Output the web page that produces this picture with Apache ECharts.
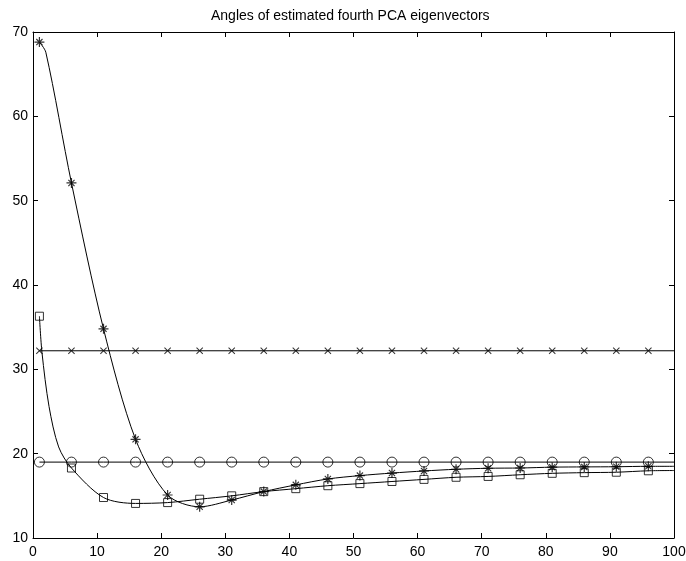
<!DOCTYPE html>
<html>
<head>
<meta charset="utf-8">
<script src="https://cdn.jsdelivr.net/npm/echarts@6/dist/echarts.min.js"></script>
<style>
  html, body { margin: 0; padding: 0; background: #fff; }
  #chart { width: 686px; height: 561px; }
</style>
</head>
<body>
<div id="chart"></div>
<script>
// sample points that carry markers
const markerX = [1, 6, 11, 16, 21, 26, 31, 36, 41, 46, 51, 56, 61, 66, 71, 76, 81, 86, 91, 96];
const starY = [68.8, 52.1, 34.8, 21.7, 15.1, 13.7, 14.5, 15.5, 16.3, 17.0, 17.4, 17.7, 17.95, 18.15, 18.27, 18.3, 18.4, 18.43, 18.45, 18.5];
const squareY = [36.3, 18.3, 14.8, 14.1, 14.2, 14.6, 15.0, 15.5, 15.85, 16.2, 16.45, 16.7, 16.95, 17.2, 17.3, 17.5, 17.67, 17.75, 17.8, 17.97];
const crossY = [32.2, 32.2, 32.2, 32.2, 32.2, 32.2, 32.2, 32.2, 32.2, 32.2, 32.2, 32.2, 32.2, 32.2, 32.2, 32.2, 32.2, 32.2, 32.2, 32.2];
const circleY = [19.0, 19.0, 19.0, 19.0, 19.0, 19.0, 19.0, 19.0, 19.0, 19.0, 19.0, 19.0, 19.0, 19.0, 19.0, 19.0, 19.0, 19.0, 19.0, 19.0];

// extra points (no marker there)
const starCurveX = [2, 100];
const starCurveY = [67.6, 18.5];
const squareCurveX = [1.4, 2.5, 4, 100];
const squareCurveY = [32.0, 25.6, 20.8, 18.0];
const flatEndX = [100];
const crossEndY = [32.2];
const circleEndY = [19.0];

const xTicks = [0, 10, 20, 30, 40, 50, 60, 70, 80, 90, 100];
const yTicks = [10, 20, 30, 40, 50, 60, 70];

const FONT = "'Liberation Sans', Arial, sans-serif";

const starPath = 'path://M4.4,0 H5.6 V10 H4.4 Z M0,4.4 H10 V5.6 H0 Z ' +
  'M1.5,2.3 L2.3,1.5 L8.5,7.7 L7.7,8.5 Z M7.7,1.5 L8.5,2.3 L2.3,8.5 L1.5,7.7 Z';
const crossPath = 'path://M0,1 L1,0 L10,9 L9,10 Z M9,0 L10,1 L1,10 L0,9 Z';

function pairs(xs, ys) {
  return xs.map((x, i) => [x, ys[i]]);
}
function curve(xs, ys, ex, ey) {
  return pairs(xs, ys).concat(pairs(ex, ey)).sort((a, b) => a[0] - b[0]);
}

function lineSeries(data, smooth) {
  return {
    type: 'line',
    data: data,
    showSymbol: false,
    symbol: 'none',
    smooth: smooth ? 0.3 : false,
    lineStyle: { color: '#000', width: 1 },
    z: 2,
  };
}
function markSeries(ys, symbol, size, hollow) {
  return {
    type: 'scatter',
    data: pairs(markerX, ys),
    symbol: symbol,
    symbolSize: size,
    itemStyle: hollow
      ? { color: 'rgba(0,0,0,0)', borderColor: '#000', borderWidth: 1 }
      : { color: '#000' },
    z: 3,
  };
}

const axisCommon = {
  type: 'value',
  axisLine: { show: true, onZero: false, lineStyle: { color: '#000', width: 1 } },
  axisTick: { show: true, inside: true, length: 5, lineStyle: { color: '#000' } },
  splitLine: { show: false },
};

const chart = echarts.init(document.getElementById('chart'));
chart.setOption({
  animation: false,
  backgroundColor: '#fff',
  title: {
    text: 'Angles of estimated fourth PCA eigenvectors',
    left: 211,
    top: 9,
    padding: 0,
    textStyle: { fontFamily: FONT, fontSize: 14, fontWeight: 'normal', color: '#000' },
  },
  grid: { left: 33, right: 12, top: 32, bottom: 23, outerBoundsMode: 'none', containLabel: false },
  xAxis: [
    Object.assign({}, axisCommon, {
      min: xTicks[0], max: xTicks[xTicks.length - 1], interval: 10,
      position: 'bottom',
      axisLabel: { color: '#000', fontFamily: FONT, fontSize: 14, margin: 7 },
    }),
    Object.assign({}, axisCommon, {
      min: xTicks[0], max: xTicks[xTicks.length - 1], interval: 10,
      position: 'top',
      axisLabel: { show: false },
    }),
  ],
  yAxis: [
    Object.assign({}, axisCommon, {
      min: yTicks[0], max: yTicks[yTicks.length - 1], interval: 10,
      position: 'left',
      axisLabel: { color: '#000', fontFamily: FONT, fontSize: 14, margin: 5 },
    }),
    Object.assign({}, axisCommon, {
      min: yTicks[0], max: yTicks[yTicks.length - 1], interval: 10,
      position: 'right',
      axisLabel: { show: false },
    }),
  ],
  series: [
    lineSeries(curve(markerX, starY, starCurveX, starCurveY), true),
    lineSeries(curve(markerX, squareY, squareCurveX, squareCurveY), true),
    lineSeries(curve(markerX, crossY, flatEndX, crossEndY), false),
    lineSeries(curve(markerX, circleY, flatEndX, circleEndY), false),
    markSeries(starY, starPath, 10, false),
    markSeries(squareY, 'rect', 8, true),
    markSeries(crossY, crossPath, 7, false),
    markSeries(circleY, 'circle', 10, true),
  ],
});
</script>
</body>
</html>
